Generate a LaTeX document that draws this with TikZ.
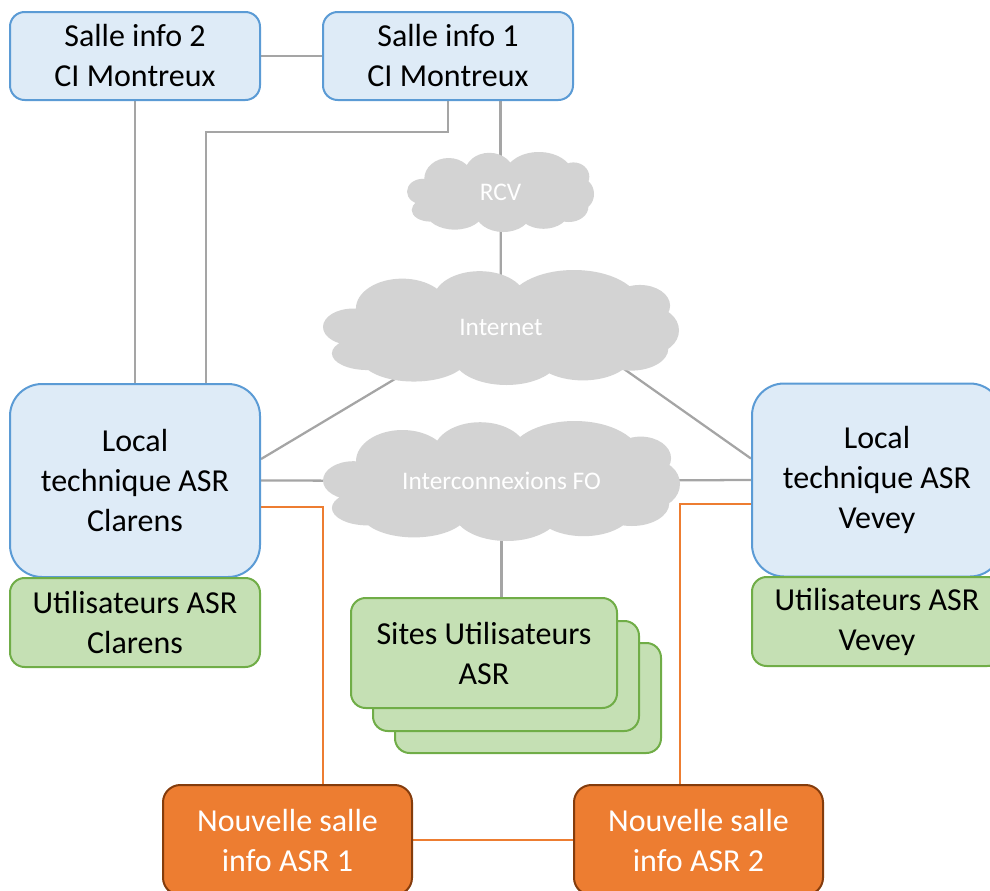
\documentclass[tikz,border=0pt]{standalone}
\usepackage{fontspec}
\setmainfont{Carlito}
\usetikzlibrary{calc}
\pgfdeclarelayer{background}
\pgfsetlayers{background,main}
\definecolor{bluefill}{HTML}{DEEBF7}
\definecolor{blueline}{HTML}{5B9BD5}
\definecolor{greenfill}{HTML}{C5E0B4}
\definecolor{greenline}{HTML}{70AD47}
\definecolor{orangefill}{HTML}{ED7D31}
\definecolor{orangeline}{HTML}{843C0C}
\definecolor{cloudgray}{HTML}{D3D3D3}
\definecolor{linkgray}{HTML}{A5A5A5}
\newcommand{\officecloud}[4]{%
\begin{scope}[shift={(#1,#2)},xscale=#3,yscale=-#4]
\fill[cloudgray]
 (-0.83,0.01) ellipse [x radius=0.17,y radius=0.32]
 (-0.75,-0.45) ellipse [x radius=0.2,y radius=0.29]
 (-0.555,0.33) ellipse [x radius=0.26,y radius=0.52]
 (-0.12,0.48) ellipse [x radius=0.26,y radius=0.5]
 (0.41,0.39) ellipse [x radius=0.37,y radius=0.61]
 (0.78,0.38) ellipse [x radius=0.17,y radius=0.36]
 (0.84,-0.05) ellipse [x radius=0.16,y radius=0.41]
 (0.73,-0.37) ellipse [x radius=0.21,y radius=0.38]
 (0.46,-0.45) ellipse [x radius=0.28,y radius=0.47]
 (0.03,-0.5) ellipse [x radius=0.3,y radius=0.5]
 (-0.49,-0.52) ellipse [x radius=0.3,y radius=0.42]
 (0,0) ellipse [x radius=0.78,y radius=0.7];
\end{scope}}
\tikzset{
  box/.style={rectangle,rounded corners=#1,line width=1.5pt,align=center,
    font=\fontsize{24}{30}\selectfont,inner sep=0pt},
  bluebox/.style={box=11pt,draw=blueline,fill=bluefill},
  greenbox/.style={box=11pt,draw=greenline,fill=greenfill},
  orangebox/.style={box=13pt,draw=orangeline,fill=orangefill,text=white},
  cloudlabel/.style={rectangle,inner sep=0pt,text=white,
    font=\fontsize{19}{22}\selectfont},
  graylink/.style={draw=linkgray,line width=1.7pt},
  orangelink/.style={draw=orangefill,line width=1.8pt},
}
\begin{document}
\begin{tikzpicture}[x=0.75pt,y=-0.75pt]
\useasboundingbox (0,0) rectangle (990,890);
% clouds
\officecloud{500.5}{192}{93.5}{40}
\officecloud{501}{327.5}{178}{57.5}
\officecloud{501.5}{481}{178.5}{60}
\node[cloudlabel,minimum width=140.25pt,minimum height=60pt] (rcv) at (500.5,192) {RCV};
\node[cloudlabel,minimum width=267pt,minimum height=86.25pt] (internet) at (501,327.5) {Internet};
\node[cloudlabel,minimum width=267.75pt,minimum height=90pt] (fo) at (501.5,481) {Interconnexions FO};
% boxes
\node[bluebox,minimum width=187.5pt,minimum height=66pt] (s2) at (135,56) {Salle info 2\\CI Montreux};
\node[bluebox,minimum width=187.5pt,minimum height=66pt] (s1) at (448,56) {Salle info 1\\CI Montreux};
\node[box=24pt,draw=blueline,fill=bluefill,minimum width=187.5pt,minimum height=144.75pt] (clarens) at (135,480.5) {Local\\technique ASR\\Clarens};
\node[box=24pt,draw=blueline,fill=bluefill,minimum width=187.5pt,minimum height=144.75pt] (vevey) at (877,480) {Local\\technique ASR\\Vevey};
\node[greenbox,minimum width=187.5pt,minimum height=66.75pt] (uclarens) at (135,622.5) {Utilisateurs ASR\\Clarens};
\node[greenbox,minimum width=187.5pt,minimum height=66.75pt] (uvevey) at (877,621.5) {Utilisateurs ASR\\Vevey};
\node[greenbox,minimum width=199.5pt,minimum height=82.5pt] (sites3) at (528,698) {};
\node[greenbox,minimum width=199.5pt,minimum height=82.5pt] (sites2) at (506,676) {};
\node[greenbox,minimum width=199.5pt,minimum height=82.5pt] (sites) at (484,653) {Sites Utilisateurs\\ASR};
\node[orangebox,minimum width=186.75pt,minimum height=82.5pt] (ns1) at (287.5,840) {Nouvelle salle\\info ASR 1};
\node[orangebox,minimum width=186.75pt,minimum height=82.5pt] (ns2) at (698.5,840) {Nouvelle salle\\info ASR 2};
% connectors
\coordinate (bend) at (206,132);
\coordinate (oL) at (323,507);
\coordinate (oR) at (680,504);
\coordinate (iL) at (420,364);
\coordinate (iR) at (590,345);
\begin{pgfonlayer}{background}
\draw[graylink] (s2.east) -- (s1.west);
\draw[graylink] (s2.south) -- (clarens.north);
\draw[graylink] (s1.south) |- (bend) -- (bend |- clarens.north);
\draw[graylink] (rcv.north |- s1.south) -- (rcv.center);
\draw[graylink] (rcv.center) -- (internet.center);
\draw[graylink] (iL) -- ($(clarens.north east)!0.39!(clarens.south east)$);
\draw[graylink] (iR) -- ($(vevey.north west)!0.39!(vevey.south west)$);
\draw[graylink] (clarens.east) -- (fo.center);
\draw[graylink] (fo.center) -- (vevey.west);
\draw[graylink] (fo.center) -- (fo.center |- sites.north);
\draw[orangelink] (oL -| clarens.east) -- (oL) -- (oL |- ns1.north);
\draw[orangelink] (oR -| vevey.west) -- (oR) -- (oR |- ns2.north);
\draw[orangelink] (ns1.east) -- (ns2.west);
\end{pgfonlayer}
\end{tikzpicture}
\end{document}
